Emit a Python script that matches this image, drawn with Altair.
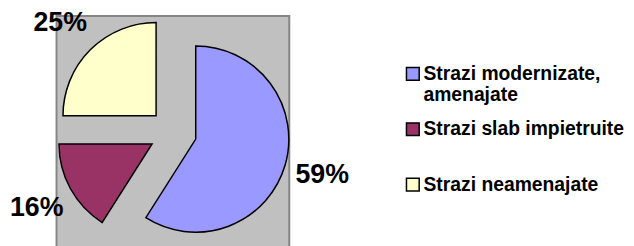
import math
import altair as alt
import pandas as pd

# ---- data ----
categories = ["Strazi modernizate, amenajate", "Strazi slab impietruite", "Strazi neamenajate"]
shares = [59, 16, 25]
pct_labels = ["59%", "16%", "25%"]

# ---- styles ----
colors = ["#9999FF", "#993366", "#FFFFCC"]
FONT = "Liberation Sans"
RADIUS = 94
EXPLODE = 24
LABEL_RADIUS = [133, 133, 137]
LABEL_DY = [-1, 1, 3]
total = sum(shares)

df = pd.DataFrame({"cat": categories, "share": shares, "label": pct_labels,
                   "order": list(range(len(categories)))})

base = alt.Chart(df).transform_window(
    end="sum(share)", sort=[alt.SortField("order")], frame=[None, 0]
).transform_calculate(
    start="datum.end - datum.share",
    mid="datum.end - datum.share / 2",
)

theta_scale = alt.Scale(domain=[0, total], range=[0, 2 * math.pi])
color_enc = alt.Color(
    "cat:N",
    scale=alt.Scale(domain=categories, range=colors),
    legend=alt.Legend(
        orient="none", legendX=350, legendY=48.5, title=None,
        symbolType="square", symbolSize=165, symbolStrokeColor="black",
        symbolStrokeWidth=1.5, symbolOpacity=1,
        labelFont=FONT, labelFontSize=19.5, labelFontWeight="bold",
        labelColor="black", labelOffset=1, labelLimit=400, rowPadding=14,
        labelExpr="indexof(datum.label, ', ') >= 0 ? split(replace(datum.label, ', ', ',|'), '|') : [datum.label, '']",
    ),
)

# plot-area background (grey panel)
panel = alt.Chart(df).transform_aggregate(n="count()").mark_rect(
    fill="#C0C0C0", stroke="#858585", strokeWidth=2
).encode(
    x=alt.value(0), x2=alt.value("width"),
    y=alt.value(0), y2=alt.value("height"),
)

layers = [panel]
start = 0
for i, cat in enumerate(categories):
    mid = start + shares[i] / 2
    ang = mid / total * 2 * math.pi
    dx = EXPLODE * math.sin(ang)
    dy = -EXPLODE * math.cos(ang)
    start += shares[i]
    sub = base.transform_filter(alt.datum.cat == cat)
    arc = sub.mark_arc(radius=RADIUS, stroke="black", strokeWidth=1.5,
                       xOffset=dx, yOffset=dy).encode(
        theta=alt.Theta("start:Q", scale=theta_scale, stack=None),
        theta2="end:Q",
        color=color_enc,
    )
    txt = sub.mark_text(radius=LABEL_RADIUS[i], font=FONT, fontWeight="bold",
                        fontSize=27, color="black", xOffset=dx,
                        yOffset=dy + LABEL_DY[i],
                        align="center", baseline="middle").encode(
        theta=alt.Theta("mid:Q", scale=theta_scale, stack=None),
        text="label:N",
    )
    layers += [arc, txt]

chart = alt.layer(*layers).properties(
    width=235, height=235,
    autosize=alt.AutoSizeParams(type="none"),
    padding={"left": 49, "top": 7, "right": 340, "bottom": 0},
).configure_view(
    strokeWidth=0
)

chart.save("out.html", embed_options={"renderer": "svg", "actions": False})
